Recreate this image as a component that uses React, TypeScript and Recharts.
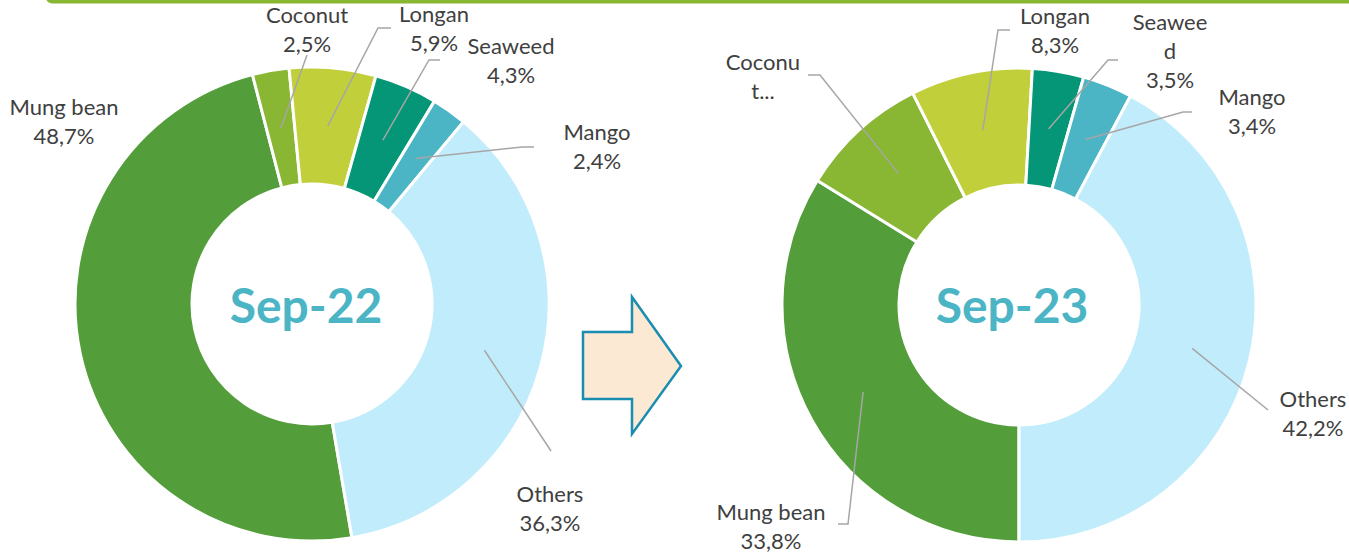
import React from 'react';
import { PieChart, Pie, Cell } from 'recharts';

const categories22 = ['Mung bean', 'Coconut', 'Longan', 'Seaweed', 'Mango', 'Others'];
const values22 = [48.7, 2.5, 5.9, 4.3, 2.4, 36.3];
const labelText22 = [['Mung bean', '48,7%'], ['Coconut', '2,5%'], ['Longan', '5,9%'], ['Seaweed', '4,3%'], ['Mango', '2,4%'], ['Others', '36,3%']];

const categories23 = ['Mung bean', 'Coconut', 'Longan', 'Seaweed', 'Mango', 'Others'];
const values23 = [33.8, 8.8, 8.3, 3.5, 3.4, 42.2];
const labelText23 = [['Mung bean', '33,8%'], ['Coconu', 't...'], ['Longan', '8,3%'], ['Seawee', 'd', '3,5%'], ['Mango', '3,4%'], ['Others', '42,2%']];

const titles = ['Sep-22', 'Sep-23'];

const COLORS = ['#539E3A', '#8AB733', '#C1D03A', '#049676', '#4BB5C5', '#C1ECFB'];

// label layout (relative to pie center): text anchor (x, first baseline y), leader line points
const layout22 = [
  { t: [-248, -189], line: null },
  { t: [-5, -281], line: [[-5, -249]] },
  { t: [122, -282], line: [[66, -276], [79, -276]] },
  { t: [199, -250], line: [[117, -244], [128, -244]] },
  { t: [285, -164], line: [[210, -157], [222, -157]] },
  { t: [238, 198], line: [[239, 147]] },
];
const layout23 = [
  { t: [-248, 215], line: [[-171, 219], [-181, 219]] },
  { t: [-256, -235], line: [[-199, -230], [-211, -230]] },
  { t: [36, -281], line: [[-21, -275], [-9, -275]] },
  { t: [151, -275], line: [[89, -245], [99, -245]] },
  { t: [233, -200], line: [[164, -193], [173, -193]] },
  { t: [294, 102], line: [[249, 105]] },
];

const RAD = Math.PI / 180;
const FONT = 'Lato, "Open Sans", sans-serif';

function makeLabel(layout: any[], texts: string[][]) {
  return (props: any) => {
    const { cx, cy, midAngle, innerRadius, outerRadius, index } = props;
    const L = layout[index];
    const r = (innerRadius + outerRadius) / 2;
    const ax = cx + r * Math.cos(-midAngle * RAD);
    const ay = cy + r * Math.sin(-midAngle * RAD);
    let d = '';
    if (L.line) {
      d = `M${ax},${ay}` + L.line.map((p: number[]) => ` L${cx + p[0]},${cy + p[1]}`).join('');
    }
    return (
      <g key={`lab-${index}`}>
        {d && <path d={d} stroke="#A6A6A6" strokeWidth={1.5} fill="none" />}
        <text x={cx + L.t[0]} y={cy + L.t[1]} textAnchor="middle" fill="#404040" fontSize={22} fontFamily={FONT}>
          {texts[index].map((s, i) => (
            <tspan key={i} x={cx + L.t[0]} dy={i === 0 ? 0 : 29}>{s}</tspan>
          ))}
        </text>
      </g>
    );
  };
}

const data22 = categories22.map((name, i) => ({ name, value: values22[i] }));
const data23 = categories23.map((name, i) => ({ name, value: values23[i] }));

export default function App() {
  return (
    <div style={{ position: 'absolute', left: 0, top: 0, width: 1349, height: 555, background: '#fff' }}>
      <PieChart width={1349} height={555} margin={{ top: 0, right: 0, bottom: 0, left: 0 }}>
        <Pie
          data={data22}
          dataKey="value"
          nameKey="name"
          cx={312}
          cy={304}
          innerRadius={120}
          outerRadius={237}
          startAngle={-80.3}
          endAngle={-440.3}
          stroke="#ffffff"
          strokeWidth={3}
          isAnimationActive={false}
          label={makeLabel(layout22, labelText22)}
          labelLine={false}
        >
          {data22.map((_, i) => (
            <Cell key={i} fill={COLORS[i]} />
          ))}
        </Pie>
        <Pie
          data={data23}
          dataKey="value"
          nameKey="name"
          cx={1019}
          cy={305}
          innerRadius={120}
          outerRadius={237}
          startAngle={-90}
          endAngle={-450}
          stroke="#ffffff"
          strokeWidth={3}
          isAnimationActive={false}
          label={makeLabel(layout23, labelText23)}
          labelLine={false}
        >
          {data23.map((_, i) => (
            <Cell key={i} fill={COLORS[i]} />
          ))}
        </Pie>
      </PieChart>
      <svg width={1349} height={555} style={{ position: 'absolute', left: 0, top: 0, pointerEvents: 'none' }}>
        <rect x={46} y={-10} width={1320} height={13.5} rx={6} fill="#8AB733" />
        <polygon
          points="583,332 632,332 632,297 681,366 632,434 632,399 583,399"
          fill="#FBE9D4"
          stroke="#1A8DB0"
          strokeWidth={2.5}
          strokeLinejoin="miter"
        />
        <text x={306} y={323} textAnchor="middle" fill="#4BB5C5" fontSize={48} fontWeight={700} fontFamily={FONT}>{titles[0]}</text>
        <text x={1012} y={323} textAnchor="middle" fill="#4BB5C5" fontSize={48} fontWeight={700} fontFamily={FONT}>{titles[1]}</text>
      </svg>
    </div>
  );
}
